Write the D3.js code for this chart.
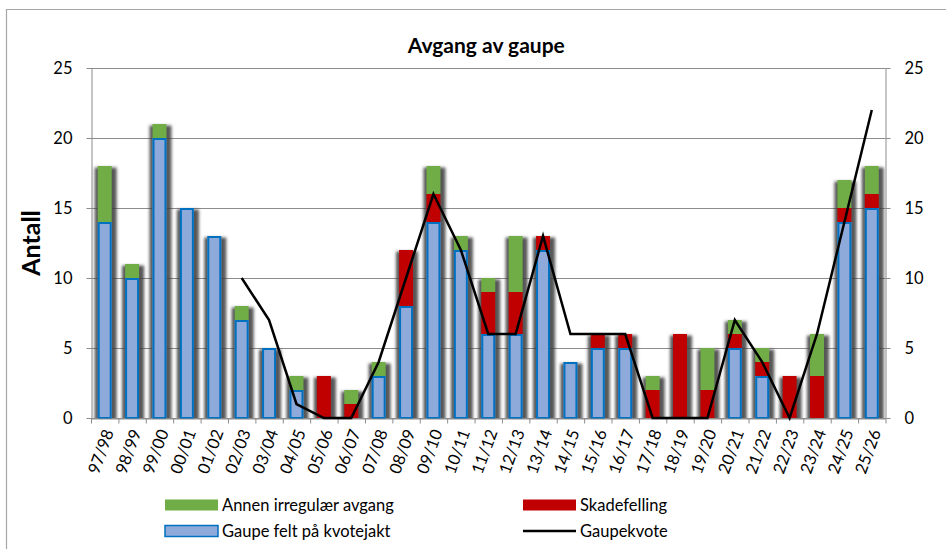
<!DOCTYPE html>
<html><head><meta charset="utf-8">
<script src="https://cdn.jsdelivr.net/npm/d3@7"></script>
<style>
html,body{margin:0;padding:0;background:#fff;}
svg{display:block;font-family:Lato,"Open Sans",sans-serif;}
</style></head>
<body><svg id="c" width="946" height="549"></svg>
<script>
const categories = ["97/98","98/99","99/00","00/01","01/02","02/03","03/04","04/05","05/06","06/07","07/08","08/09","09/10","10/11","11/12","12/13","13/14","14/15","15/16","16/17","17/18","18/19","19/20","20/21","21/22","22/23","23/24","24/25","25/26"];
const kvotejakt    = [14,10,20,15,13,7,5,2,0,0,3,8,14,12,6,6,12,4,5,5,0,0,0,5,3,0,0,14,15];
const skadefelling = [0,0,0,0,0,0,0,0,3,1,0,4,2,0,3,3,1,0,1,1,2,6,2,1,1,3,3,1,1];
const annen        = [4,1,1,0,0,1,0,1,0,1,1,0,2,1,1,4,0,0,0,0,1,0,3,1,1,0,3,2,2];
const gaupekvote   = [null,null,null,null,null,10,7,1,0,0,4,10,16,12,6,6,13,6,6,6,0,0,0,7,4,0,6,14,22];
const yTicks = [0,5,10,15,20,25];
const seriesNames = ["Annen irregulær avgang","Skadefelling","Gaupe felt på kvotejakt","Gaupekvote"];

const svg = d3.select("#c");
const L=91, R=885.5, T=68, B=418;
const grid="#8c8c8c";

// outer frame
svg.append("path").attr("d","M6.5,549 V9.5 H946").attr("fill","none").attr("stroke","#a6a6a6").attr("stroke-width",1.2);

const x = d3.scaleBand().domain(categories).range([L,R]).paddingInner(0.49).paddingOuter(0.245);
const xi = d3.scaleLinear().domain([0,categories.length]).range([L,R]);
const y = d3.scaleLinear().domain([0,25]).range([B,T]);

const defs = svg.append("defs");
const f = defs.append("filter").attr("id","blur").attr("x","-60%").attr("y","-10%").attr("width","220%").attr("height","130%");
f.append("feGaussianBlur").attr("stdDeviation",1.6);
defs.append("clipPath").attr("id","pc").append("rect").attr("x",L).attr("y",T-5).attr("width",R-L).attr("height",B-T+5);

// gridlines
svg.append("g").selectAll("line").data(yTicks).join("line")
  .attr("x1",L).attr("x2",R).attr("y1",d=>Math.round(y(d))+0.5).attr("y2",d=>Math.round(y(d))+0.5)
  .attr("stroke",grid).attr("stroke-width",1);

// axes
const styleAxis = g => { g.selectAll(".domain,line").attr("stroke",grid); g.selectAll("text").attr("fill","#000").style("font-size","16.5px").style("font-family","Lato, sans-serif"); };
svg.append("g").attr("transform",`translate(${L+0.5},0)`).call(d3.axisLeft(y).tickValues(yTicks).tickSize(5).tickSizeOuter(0).tickPadding(14)).call(styleAxis);
svg.append("g").attr("transform",`translate(${R},0)`).call(d3.axisRight(y).tickValues(yTicks).tickSize(5).tickSizeOuter(0).tickPadding(14)).call(styleAxis);

// x labels
svg.append("g").selectAll("text").data(categories).join("text")
  .attr("transform",d=>`translate(${x(d)+x.bandwidth()/2+4},${B+12}) rotate(-70)`)
  .attr("text-anchor","end").attr("dy","0.35em")
  .style("font-size","16.5px").text(d=>d);

// stacked bars
const rows = categories.map((c,i)=>({cat:c, kvotejakt:kvotejakt[i], skadefelling:skadefelling[i], annen:annen[i]}));
const keys = ["kvotejakt","skadefelling","annen"];
const colors = {kvotejakt:"#8eaadb", skadefelling:"#c00000", annen:"#70ad47"};
const stack = d3.stack().keys(keys)(rows);
const topLayer = stack[stack.length-1];

// shadows
svg.append("g").attr("clip-path","url(#pc)").append("g").attr("filter","url(#blur)")
  .selectAll("rect").data(topLayer.filter(d=>d[1]>0)).join("rect")
  .attr("x",d=>x(d.data.cat)-3).attr("width",x.bandwidth()+8)
  .attr("y",d=>y(d[1])+1.5).attr("height",d=>y(0)-y(d[1])+2)
  .attr("fill","#3a3a3a").attr("opacity",0.85);

const bars = svg.append("g");
stack.forEach(layer=>{
  bars.append("g").selectAll("rect").data(layer.filter(d=>d[1]>d[0])).join("rect")
    .attr("x",d=>x(d.data.cat)).attr("width",x.bandwidth())
    .attr("y",d=>y(d[1])).attr("height",d=>y(d[0])-y(d[1]))
    .attr("fill",colors[layer.key]);
});
// blue borders
svg.append("g").selectAll("rect").data(stack[0].filter(d=>d[1]>d[0])).join("rect")
  .attr("x",d=>x(d.data.cat)+1).attr("width",x.bandwidth()-2)
  .attr("y",d=>y(d[1])+1).attr("height",d=>y(d[0])-y(d[1])-1)
  .attr("fill","none").attr("stroke","#0070c0").attr("stroke-width",2);

// bottom axis over bars
svg.append("g").attr("transform",`translate(0,${B+0.5})`).call(d3.axisBottom(xi).tickValues(d3.range(categories.length+1)).tickFormat("").tickSize(5).tickSizeOuter(0)).call(styleAxis);

// line
const line = d3.line().defined(d=>d!=null).x((d,i)=>x(categories[i])+x.bandwidth()/2).y(d=>y(d));
svg.append("path").datum(gaupekvote).attr("d",line).attr("fill","none").attr("stroke","#000").attr("stroke-width",2.5).attr("stroke-linejoin","miter");

// title
svg.append("text").attr("x",(L+R)/2-2).attr("y",53).attr("text-anchor","middle")
  .style("font-size","21px").style("font-weight","bold").text("Avgang av gaupe");
svg.append("text").attr("transform",`translate(40,${(T+B)/2}) rotate(-90)`).attr("text-anchor","middle")
  .style("font-size","25px").style("font-weight","bold").text("Antall");

// legend
const lg = svg.append("g").style("font-size","16.5px");
const items = [
  {name:seriesNames[0], type:"rect", fill:colors.annen, x:165, y:505},
  {name:seriesNames[1], type:"rect", fill:colors.skadefelling, x:523, y:505},
  {name:seriesNames[2], type:"blue", fill:colors.kvotejakt, x:165, y:531},
  {name:seriesNames[3], type:"line", x:523, y:531}
];
items.forEach(it=>{
  if(it.type==="line"){
    lg.append("line").attr("x1",it.x).attr("x2",it.x+53).attr("y1",it.y).attr("y2",it.y).attr("stroke","#000").attr("stroke-width",2.5);
  } else {
    lg.append("rect").attr("x",it.x).attr("y",it.y-5.5).attr("width",53).attr("height",11).attr("fill",it.fill)
      .attr("stroke",it.type==="blue"?"#0070c0":"none").attr("stroke-width",1.5);
  }
  lg.append("text").attr("x",it.x+57).attr("y",it.y).attr("dy","0.35em").text(it.name);
});
</script></body></html>
